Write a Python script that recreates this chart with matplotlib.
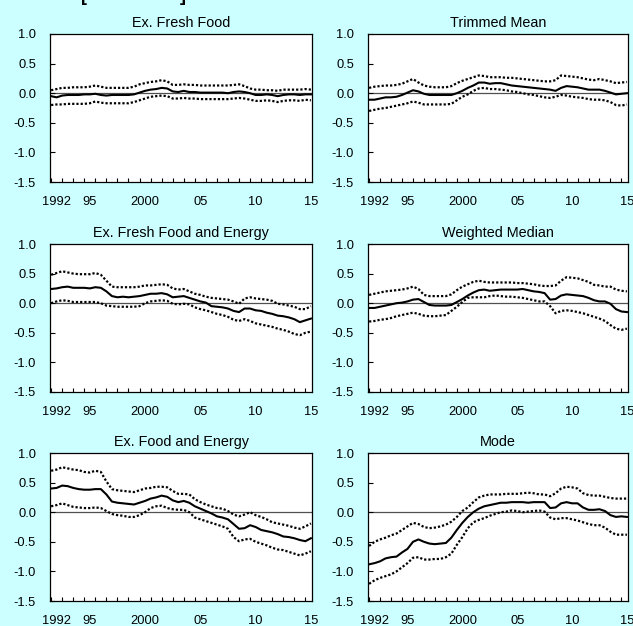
"""Six-panel chart of core inflation gaps with upper/lower bands."""

import numpy as np
import matplotlib
matplotlib.use("Agg")
import matplotlib.pyplot as plt

plt.rcParams["font.family"] = ["Liberation Sans", "DejaVu Sans"]
plt.rcParams["axes.unicode_minus"] = False

BG = "#CCFFFF"

# half-year points, 1992 to 2015
YEARS = np.arange(1992.0, 2015.51, 0.5)

TITLES = ["Ex. Fresh Food", "Trimmed Mean",
          "Ex. Fresh Food and Energy", "Weighted Median",
          "Ex. Food and Energy", "Mode"]

XTICK_YEARS = [1992, 1995, 2000, 2005, 2010, 2015]
XTICK_LABELS = ["1992", "95", "2000", "05", "10", "15"]
YTICKS = [1.0, 0.5, 0.0, -0.5, -1.0, -1.5]

# Ex. Fresh Food
ex_fresh_mid = [-0.05, -0.07, -0.04, -0.03, -0.03, -0.03, -0.02, -0.02,
                -0.01, -0.03, -0.04, -0.03, -0.03, -0.03, -0.03, -0.02,
                0.01, 0.04, 0.06, 0.07, 0.09, 0.08, 0.03, 0.02,
                0.04, 0.02, 0.02, 0.01, 0.01, 0.01, 0.01, 0.01,
                0.00, 0.02, 0.03, 0.02, 0.00, -0.03, -0.03, -0.02,
                -0.03, -0.05, -0.03, -0.02, -0.02, -0.03, -0.02, -0.02]
ex_fresh_hi = [0.05, 0.07, 0.09, 0.09, 0.10, 0.10, 0.10, 0.11,
               0.13, 0.11, 0.09, 0.09, 0.09, 0.09, 0.09, 0.11,
               0.15, 0.17, 0.19, 0.20, 0.22, 0.20, 0.14, 0.14,
               0.15, 0.14, 0.14, 0.13, 0.13, 0.13, 0.13, 0.13,
               0.13, 0.14, 0.15, 0.12, 0.08, 0.06, 0.06, 0.05,
               0.05, 0.04, 0.06, 0.06, 0.06, 0.06, 0.07, 0.06]
ex_fresh_lo = [-0.20, -0.19, -0.19, -0.18, -0.18, -0.18, -0.18, -0.17,
               -0.14, -0.16, -0.17, -0.17, -0.17, -0.17, -0.17, -0.15,
               -0.12, -0.09, -0.06, -0.05, -0.04, -0.05, -0.09, -0.09,
               -0.08, -0.09, -0.09, -0.10, -0.10, -0.10, -0.10, -0.10,
               -0.10, -0.09, -0.08, -0.09, -0.11, -0.13, -0.13, -0.12,
               -0.13, -0.15, -0.13, -0.12, -0.12, -0.13, -0.11, -0.12]

# Trimmed Mean
trimmed_mid = [-0.11, -0.11, -0.09, -0.07, -0.07, -0.06, -0.03, 0.01,
               0.05, 0.03, -0.01, -0.03, -0.03, -0.03, -0.03, -0.03,
               0.00, 0.04, 0.09, 0.13, 0.18, 0.18, 0.16, 0.17,
               0.17, 0.15, 0.13, 0.12, 0.11, 0.10, 0.09, 0.08,
               0.07, 0.06, 0.04, 0.09, 0.12, 0.11, 0.10, 0.08,
               0.06, 0.06, 0.06, 0.04, 0.01, -0.02, -0.01, 0.00]
trimmed_hi = [0.09, 0.11, 0.12, 0.13, 0.13, 0.14, 0.16, 0.20,
              0.24, 0.18, 0.13, 0.11, 0.10, 0.10, 0.10, 0.12,
              0.17, 0.21, 0.24, 0.27, 0.30, 0.29, 0.27, 0.27,
              0.27, 0.26, 0.26, 0.25, 0.24, 0.23, 0.22, 0.21,
              0.20, 0.20, 0.22, 0.30, 0.29, 0.28, 0.27, 0.25,
              0.23, 0.22, 0.24, 0.22, 0.20, 0.17, 0.18, 0.19]
trimmed_lo = [-0.30, -0.28, -0.26, -0.25, -0.23, -0.21, -0.19, -0.17,
              -0.14, -0.16, -0.19, -0.19, -0.19, -0.19, -0.19, -0.18,
              -0.12, -0.06, -0.02, 0.04, 0.08, 0.09, 0.07, 0.07,
              0.06, 0.05, 0.03, 0.02, 0.00, -0.02, -0.03, -0.05,
              -0.07, -0.08, -0.06, -0.03, -0.04, -0.06, -0.07, -0.08,
              -0.10, -0.11, -0.11, -0.12, -0.15, -0.20, -0.21, -0.19]

# Ex. Fresh Food and Energy
ex_fresh_energy_mid = [0.24, 0.25, 0.27, 0.28, 0.26, 0.26, 0.26, 0.25,
                       0.27, 0.26, 0.20, 0.12, 0.10, 0.11, 0.10, 0.11,
                       0.12, 0.14, 0.16, 0.16, 0.17, 0.15, 0.10, 0.11,
                       0.12, 0.09, 0.06, 0.03, 0.01, -0.05, -0.06, -0.07,
                       -0.09, -0.13, -0.15, -0.09, -0.09, -0.12, -0.13, -0.16,
                       -0.18, -0.21, -0.22, -0.24, -0.27, -0.32, -0.29, -0.26]
ex_fresh_energy_hi = [0.48, 0.51, 0.54, 0.52, 0.50, 0.49, 0.49, 0.49,
                      0.51, 0.48, 0.38, 0.28, 0.27, 0.27, 0.27, 0.27,
                      0.28, 0.30, 0.30, 0.31, 0.32, 0.31, 0.25, 0.23,
                      0.24, 0.20, 0.16, 0.14, 0.11, 0.09, 0.08, 0.07,
                      0.06, 0.03, -0.01, 0.08, 0.10, 0.08, 0.07, 0.06,
                      0.04, -0.01, -0.02, -0.04, -0.06, -0.10, -0.10, -0.05]
ex_fresh_energy_lo = [0.00, 0.03, 0.05, 0.04, 0.02, 0.02, 0.02, 0.02,
                      0.02, 0.00, -0.04, -0.05, -0.06, -0.06, -0.06, -0.06,
                      -0.05, 0.00, 0.03, 0.04, 0.05, 0.04, -0.01, -0.02,
                      -0.01, -0.02, -0.07, -0.10, -0.12, -0.15, -0.18, -0.20,
                      -0.23, -0.28, -0.30, -0.27, -0.30, -0.34, -0.36, -0.38,
                      -0.40, -0.43, -0.45, -0.48, -0.52, -0.54, -0.50, -0.48]

# Weighted Median
wmedian_mid = [-0.08, -0.08, -0.06, -0.04, -0.02, 0.00, 0.01, 0.03,
               0.06, 0.07, 0.02, -0.03, -0.04, -0.04, -0.04, -0.03,
               0.02, 0.07, 0.13, 0.18, 0.22, 0.23, 0.21, 0.22,
               0.23, 0.23, 0.23, 0.23, 0.24, 0.22, 0.20, 0.19,
               0.17, 0.06, 0.07, 0.13, 0.15, 0.14, 0.13, 0.12,
               0.09, 0.05, 0.03, 0.03, -0.01, -0.10, -0.14, -0.15]
wmedian_hi = [0.14, 0.16, 0.18, 0.20, 0.21, 0.22, 0.23, 0.25,
              0.28, 0.24, 0.14, 0.12, 0.12, 0.12, 0.12, 0.15,
              0.22, 0.28, 0.32, 0.36, 0.38, 0.36, 0.35, 0.35,
              0.35, 0.35, 0.35, 0.34, 0.34, 0.33, 0.32, 0.30,
              0.29, 0.29, 0.30, 0.38, 0.44, 0.43, 0.42, 0.39,
              0.36, 0.31, 0.30, 0.28, 0.28, 0.23, 0.21, 0.20]
wmedian_lo = [-0.31, -0.30, -0.28, -0.27, -0.25, -0.22, -0.20, -0.18,
              -0.16, -0.18, -0.21, -0.22, -0.22, -0.21, -0.20, -0.13,
              -0.06, 0.02, 0.09, 0.10, 0.10, 0.10, 0.12, 0.13,
              0.12, 0.11, 0.11, 0.10, 0.09, 0.07, 0.05, 0.03,
              0.03, -0.05, -0.17, -0.13, -0.12, -0.13, -0.15, -0.17,
              -0.20, -0.23, -0.26, -0.30, -0.37, -0.43, -0.45, -0.43]

# Ex. Food and Energy
ex_food_energy_mid = [0.40, 0.41, 0.45, 0.44, 0.41, 0.39, 0.38, 0.38,
                      0.39, 0.39, 0.30, 0.18, 0.16, 0.15, 0.14, 0.13,
                      0.16, 0.19, 0.23, 0.25, 0.28, 0.26, 0.20, 0.17,
                      0.19, 0.16, 0.10, 0.06, 0.02, -0.02, -0.07, -0.09,
                      -0.12, -0.20, -0.28, -0.27, -0.22, -0.25, -0.30, -0.32,
                      -0.34, -0.37, -0.41, -0.42, -0.44, -0.47, -0.49, -0.44]
ex_food_energy_hi = [0.70, 0.72, 0.76, 0.74, 0.72, 0.71, 0.68, 0.67,
                     0.70, 0.68, 0.52, 0.39, 0.37, 0.36, 0.35, 0.34,
                     0.37, 0.40, 0.41, 0.43, 0.43, 0.42, 0.36, 0.31,
                     0.31, 0.30, 0.22, 0.17, 0.13, 0.10, 0.07, 0.06,
                     0.02, -0.04, -0.07, -0.04, 0.00, -0.05, -0.08, -0.12,
                     -0.17, -0.19, -0.21, -0.23, -0.26, -0.28, -0.24, -0.19]
ex_food_energy_lo = [0.10, 0.12, 0.15, 0.12, 0.09, 0.08, 0.07, 0.07,
                     0.08, 0.07, 0.02, -0.03, -0.05, -0.06, -0.08, -0.08,
                     -0.05, 0.00, 0.07, 0.10, 0.11, 0.07, 0.05, 0.04,
                     0.04, 0.00, -0.09, -0.12, -0.15, -0.18, -0.21, -0.24,
                     -0.28, -0.42, -0.49, -0.46, -0.45, -0.50, -0.53, -0.56,
                     -0.60, -0.63, -0.64, -0.67, -0.70, -0.73, -0.70, -0.66]

# Mode
mode_mid = [-0.88, -0.86, -0.83, -0.78, -0.76, -0.75, -0.68, -0.62,
            -0.50, -0.46, -0.50, -0.53, -0.54, -0.53, -0.52, -0.43,
            -0.30, -0.18, -0.08, 0.00, 0.06, 0.10, 0.12, 0.14,
            0.16, 0.16, 0.17, 0.17, 0.17, 0.16, 0.17, 0.17,
            0.17, 0.07, 0.08, 0.15, 0.17, 0.15, 0.15, 0.08,
            0.04, 0.04, 0.05, 0.02, -0.05, -0.08, -0.07, -0.08]
mode_hi = [-0.57, -0.50, -0.46, -0.43, -0.39, -0.36, -0.30, -0.24,
           -0.18, -0.20, -0.25, -0.27, -0.26, -0.24, -0.21, -0.16,
           -0.08, 0.02, 0.08, 0.17, 0.25, 0.28, 0.30, 0.30,
           0.30, 0.31, 0.31, 0.31, 0.32, 0.33, 0.32, 0.30,
           0.30, 0.27, 0.32, 0.40, 0.43, 0.42, 0.40, 0.32,
           0.29, 0.28, 0.28, 0.26, 0.24, 0.23, 0.23, 0.23]
mode_lo = [-1.21, -1.15, -1.11, -1.08, -1.05, -1.00, -0.93, -0.86,
           -0.77, -0.76, -0.80, -0.80, -0.79, -0.79, -0.76, -0.70,
           -0.55, -0.42, -0.27, -0.17, -0.13, -0.10, -0.06, -0.03,
           0.00, 0.01, 0.03, 0.02, 0.00, 0.01, 0.02, 0.03,
           0.01, -0.09, -0.12, -0.10, -0.10, -0.12, -0.14, -0.17,
           -0.20, -0.22, -0.22, -0.26, -0.33, -0.38, -0.38, -0.38]

PANELS = [
    (ex_fresh_mid, ex_fresh_hi, ex_fresh_lo),
    (trimmed_mid, trimmed_hi, trimmed_lo),
    (ex_fresh_energy_mid, ex_fresh_energy_hi, ex_fresh_energy_lo),
    (wmedian_mid, wmedian_hi, wmedian_lo),
    (ex_food_energy_mid, ex_food_energy_hi, ex_food_energy_lo),
    (mode_mid, mode_hi, mode_lo),
]

W, H = 633, 626
# axes boxes in pixels: left, width per column; top per row
COL_X = [(50, 262), (368, 260)]
ROW_Y = [34, 244, 453]
AX_H = 148


def draw_panel(ax, title, mid, hi, lo):
    ax.set_facecolor("white")
    ax.axhline(0, color="#505050", lw=0.9, zorder=1)
    ax.plot(YEARS, hi, color="black", lw=1.6, ls=(0, (1, 0.9)), zorder=2)
    ax.plot(YEARS, lo, color="black", lw=1.6, ls=(0, (1, 0.9)), zorder=2)
    ax.plot(YEARS, mid, color="black", lw=1.5, zorder=3)

    ax.set_xlim(1991.9, 2015.6)
    ax.set_ylim(-1.5, 1.0)
    ax.set_yticks(YTICKS)
    ax.set_yticklabels([f"{v:.1f}" for v in YTICKS])
    ax.tick_params(axis="y", direction="in", length=3.6, width=0.8,
                   pad=10, labelsize=9.3)

    # labels sit mid-year, tick marks on the year boundaries
    ax.set_xticks([y + 0.5 for y in XTICK_YEARS])
    ax.set_xticklabels(XTICK_LABELS)
    ax.set_xticks(range(1992, 2016), minor=True)
    ax.tick_params(axis="x", which="major", length=0, pad=10, labelsize=9.3)
    ax.tick_params(axis="x", which="minor", direction="in", length=3, width=0.8)

    for side in ax.spines.values():
        side.set_color("black")
        side.set_linewidth(0.9)
    ax.set_title(title, fontsize=10.4, pad=5)


fig = plt.figure(figsize=(W / 100, H / 100), dpi=100, facecolor=BG)

for i, (title, series) in enumerate(zip(TITLES, PANELS)):
    row, col = divmod(i, 2)
    left, width = COL_X[col]
    top = ROW_Y[row]
    ax = fig.add_axes([left / W, 1 - (top + AX_H) / H, width / W, AX_H / H])
    draw_panel(ax, title, *series)

# heading above the panels is cut off, only bracket feet remain
fig.text(81 / W, 1 - 5 / H, "[", fontsize=13, fontweight="bold", va="bottom")
fig.text(180 / W, 1 - 5 / H, "]", fontsize=13, fontweight="bold", va="bottom")

fig.savefig("out.png", dpi=100, facecolor=BG)
